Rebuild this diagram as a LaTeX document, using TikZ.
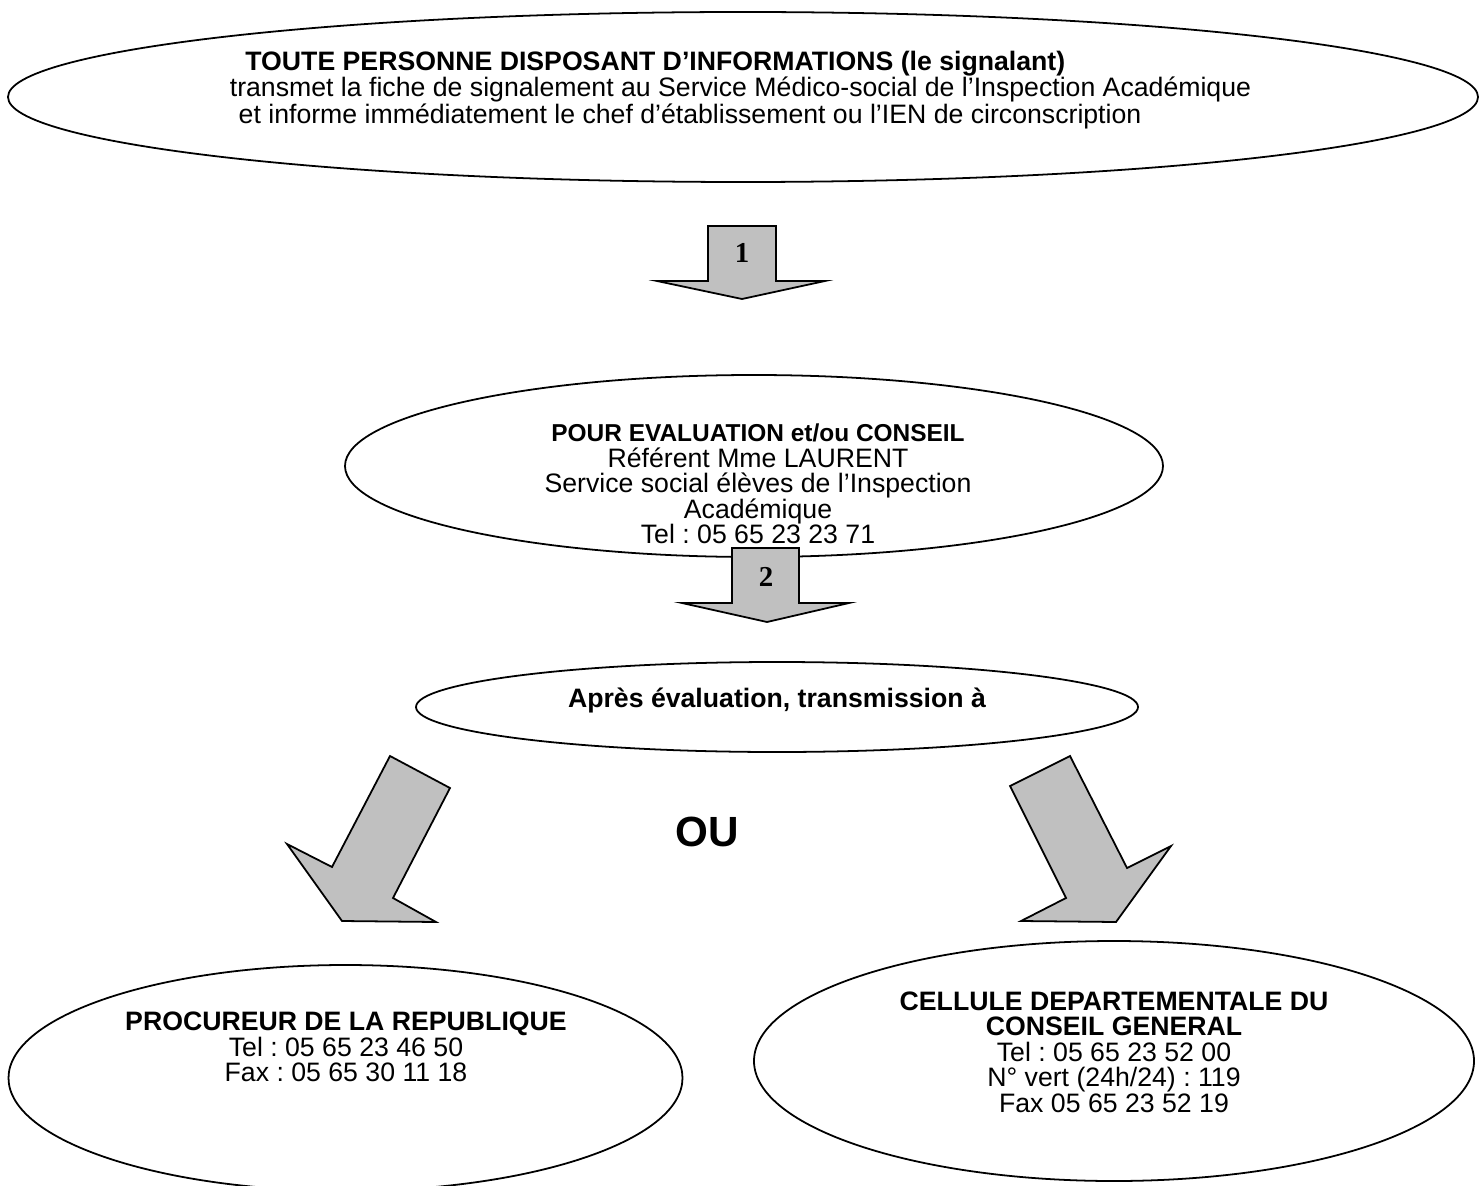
\documentclass[tikz,border=0pt]{standalone}
\usepackage{fontspec}
\setmainfont{Liberation Sans}
\newfontfamily\chiffre{Liberation Serif}
\usetikzlibrary{shapes.geometric}
\definecolor{gris}{RGB}{192,192,192}
\frenchspacing
\begin{document}
\lineskiplimit=-20pt
\begin{tikzpicture}[x=0.45pt, y=-0.45pt,
    bulle/.style={ellipse, draw, line width=0.8pt, inner sep=0pt},
    fleche/.style={draw, fill=gris, line width=0.8pt, line join=miter},
    texte/.style={align=center, font=\fontsize{12}{11.5}\selectfont},
    numero/.style={font=\fontsize{13}{15}\chiffre\bfseries}]
  \useasboundingbox (0,0) rectangle (1483,1186);

  % les bulles
  \node[bulle, minimum width=661.5pt, minimum height=76.5pt] (signalant) at (743,97) {};
  \node[bulle, minimum width=368.1pt, minimum height=81.9pt] (evaluation) at (754,466) {};
  \node[bulle, minimum width=324.9pt, minimum height=40.5pt] (apres) at (777,707) {};
  \node[bulle, minimum width=303.3pt, minimum height=101.7pt] (procureur) at (345.5,1078) {};
  \node[bulle, minimum width=324pt, minimum height=108pt] (cellule) at (1114,1061) {};

  % les fleches
  \draw[fleche] (708,226) -- (776,226) -- (776,281) -- (825,281) -- (742,299) -- (657,281) -- (708,281) -- cycle;
  \draw[fleche] (732,548) -- (799,548) -- (799,603) -- (849,603) -- (767,622) -- (682,603) -- (732,603) -- cycle;
  \draw[fleche] (390,756) -- (450,788) -- (393,898) -- (436,922) -- (342,921) -- (287,844) -- (332,867) -- cycle;
  \draw[fleche] (1070,756) -- (1010,786) -- (1066,898) -- (1021,921) -- (1116,922) -- (1171,846) -- (1127,868) -- cycle;
  \node[numero] (un) at (742,253) {1};
  \node[numero] (deux) at (766,577) {2};

  % les textes
  \node[texte, font=\fontsize{12}{12}\selectfont, align=left, anchor=west] (infos) at (222,90)
    {\hspace{7pt}\textbf{TOUTE PERSONNE DISPOSANT D’INFORMATIONS (le signalant)}\\
     transmet la fiche de signalement au Service Médico-social de l’Inspection Académique\\
     \hspace{4pt}et informe immédiatement le chef d’établissement ou l’IEN de circonscription};
  \node[texte] (referent) at (758,484)
    {{\fontsize{11}{11.5}\selectfont\bfseries POUR EVALUATION et/ou CONSEIL}\\
     Référent Mme LAURENT\\ Service social élèves de l’Inspection\\ Académique\\ Tel : 05 65 23 23 71};
  \node[texte, font=\fontsize{12}{12}\selectfont\bfseries] (transmission) at (777,700) {Après évaluation, transmission à};
  \node[font=\fontsize{19}{22}\selectfont\bfseries] (ou) at (707,832) {OU};
  \node[texte] (parquet) at (346,1047)
    {\textbf{PROCUREUR DE LA REPUBLIQUE}\\ Tel : 05 65 23 46 50\\ Fax : 05 65 30 11 18};
  \node[texte] (conseil) at (1114,1052)
    {\textbf{CELLULE DEPARTEMENTALE DU}\\ \textbf{CONSEIL GENERAL}\\ Tel : 05 65 23 52 00\\
     N° vert (24h/24) : 119\\ Fax 05 65 23 52 19};
\end{tikzpicture}
\end{document}
